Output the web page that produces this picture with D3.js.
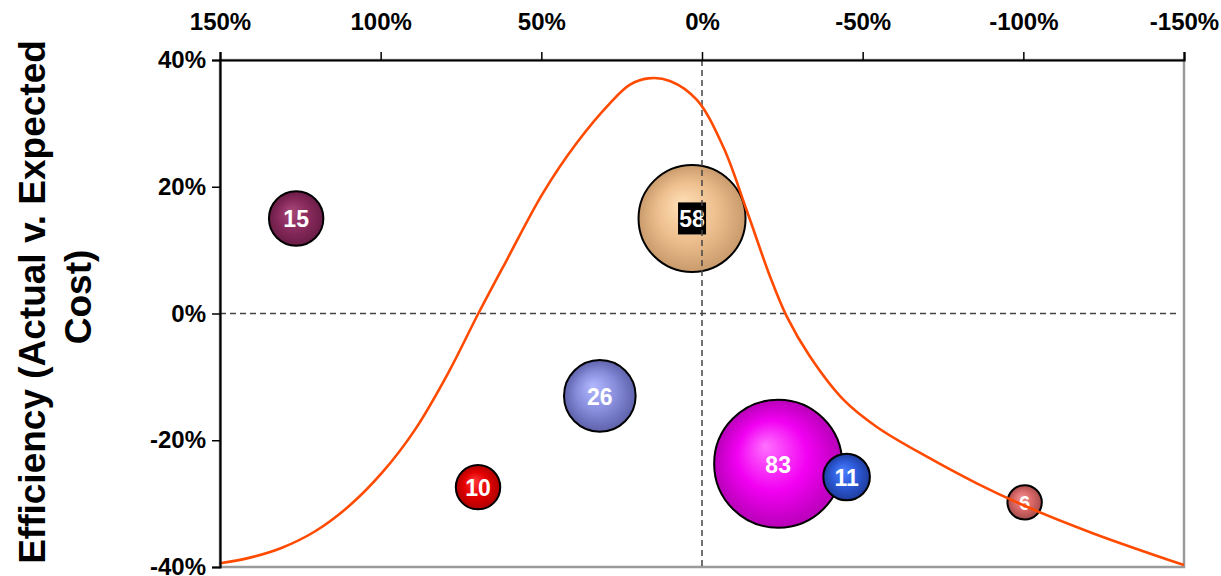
<!DOCTYPE html>
<html>
<head>
<meta charset="utf-8">
<script src="https://cdn.jsdelivr.net/npm/d3@7"></script>
<style>
  html, body { margin: 0; padding: 0; background: #fff; }
  svg { display: block; }
  text { font-family: "Liberation Sans", Arial, sans-serif; font-weight: bold; }
</style>
</head>
<body>
<svg id="chart" width="1221" height="576"></svg>
<script>
// Variance from expected schedule (x) vs efficiency (y), bubble size = project count
const xTicks = [150, 100, 50, 0, -50, -100, -150];
const yTicks = [40, 20, 0, -20, -40];

const bubbleLabels = ["15", "58", "26", "10", "83", "11", "6"];
const bubbleX      = [126.3, 3.1, 31.8, 69.7, -23.7, -45.0, -100.4];
const bubbleY      = [15.0, 15.0, -13.0, -27.4, -23.7, -25.8, -29.8];
const bubbleSize   = [15, 58, 26, 10, 83, 11, 6];
const bubbleLight  = ["#a8477a", "#ffe0b8", "#b2b9ff", "#ff3a3a", "#ff70ff", "#4a80ff", "#f09090"];
const bubbleBase   = ["#892b5d", "#eebf8e", "#888ddc", "#e30000", "#f200f2", "#2d5ad8", "#d86868"];
const bubbleDark   = ["#6a1c46", "#c99b6c", "#5e62aa", "#b00000", "#b800b8", "#1f3e9e", "#a84c4c"];

// Distribution curve
const curveX = [150, 141.3, 130.9, 120.5, 110.1, 99.7, 89.4, 79.0, 69.6, 60.8, 49.5, 39.0, 28.6, 22.4,
                16.7, 10.0, 1.6, -6.6, -13.9, -21.2, -26.4, -33.6, -44.0, -54.4, -70.0, -85.5, -101.1,
                -121.8, -150];
const curveY = [-39.4, -38.6, -37.0, -34.4, -30.5, -25.2, -18.4, -9.4, 0, 8.4, 19.0, 26.9, 33.2, 36.1,
                37.1, 36.7, 33.7, 26.3, 16.3, 5.8, -0.5, -6.8, -13.6, -17.9, -22.6, -26.8, -30.5,
                -34.7, -39.7];

const svg = d3.select("#chart");
const plotLeft = 220, plotRight = 1184, plotTop = 60, plotBottom = 567;

const x = d3.scaleLinear().domain([150, -150]).range([plotLeft, plotRight]);
const y = d3.scaleLinear().domain([-40, 40]).range([plotBottom, plotTop]);
const r = d3.scaleSqrt().domain([0, 83]).range([0, 64]);
const pct = d => d + "%";

svg.append("rect").attr("width", 1221).attr("height", 576).attr("fill", "#fff");

// Plot frame (grey right/bottom edge)
svg.append("rect")
  .attr("x", plotLeft).attr("y", plotTop)
  .attr("width", plotRight - plotLeft).attr("height", plotBottom - plotTop)
  .attr("fill", "#fff").attr("stroke", "#9a9a9a").attr("stroke-width", 2.5);

// Bubble gradients
const defs = svg.append("defs");
bubbleLabels.forEach((lab, i) => {
  const g = defs.append("radialGradient")
    .attr("id", "bub" + i)
    .attr("cx", "50%").attr("cy", "50%").attr("r", "50%")
    .attr("fx", "40%").attr("fy", "36%");
  g.append("stop").attr("offset", "0%").attr("stop-color", bubbleLight[i]);
  g.append("stop").attr("offset", "55%").attr("stop-color", bubbleBase[i]);
  g.append("stop").attr("offset", "100%").attr("stop-color", bubbleDark[i]);
});

// Bubbles and their labels
const bubbles = bubbleLabels.map((lab, i) => ({
  label: lab, x: bubbleX[i], y: bubbleY[i], size: bubbleSize[i], i
}));

const bg = svg.append("g").selectAll("g").data(bubbles).join("g");
bg.append("circle")
  .attr("cx", d => x(d.x)).attr("cy", d => y(d.y)).attr("r", d => r(d.size))
  .attr("fill", d => `url(#bub${d.i})`)
  .attr("stroke", "#000").attr("stroke-width", 2);

bg.filter(d => d.label === "58").append("rect")
  .attr("x", d => x(d.x) - 14).attr("y", d => y(d.y) - 16)
  .attr("width", 28).attr("height", 32)
  .attr("fill", "#000");

bg.append("text")
  .attr("x", d => x(d.x)).attr("y", d => y(d.y) + 1)
  .attr("text-anchor", "middle").attr("dominant-baseline", "central")
  .attr("font-size", d => d.label === "6" ? 20 : 23).attr("fill", "#fff")
  .text(d => d.label);

// Zero reference lines
svg.append("line")
  .attr("x1", x(0)).attr("x2", x(0)).attr("y1", plotTop).attr("y2", plotBottom)
  .attr("stroke", "#444").attr("stroke-width", 1.5).attr("stroke-dasharray", "6,4");
svg.append("line")
  .attr("x1", plotLeft).attr("x2", plotRight - 4).attr("y1", y(0)).attr("y2", y(0))
  .attr("stroke", "#444").attr("stroke-width", 1.5).attr("stroke-dasharray", "6,4");

// Curve
const line = d3.line()
  .x((d, i) => x(curveX[i]))
  .y((d, i) => y(curveY[i]))
  .curve(d3.curveCatmullRom.alpha(0.5));
svg.append("path")
  .datum(curveX)
  .attr("d", line)
  .attr("fill", "none")
  .attr("stroke", "#ff4a00")
  .attr("stroke-width", 2.6);

// Axes
const xAxis = svg.append("g")
  .attr("transform", `translate(0,${plotTop})`)
  .call(d3.axisTop(x).tickValues(xTicks).tickFormat(pct).tickSize(8).tickPadding(22));
const yAxis = svg.append("g")
  .attr("transform", `translate(${plotLeft},0)`)
  .call(d3.axisLeft(y).tickValues(yTicks).tickFormat(pct).tickSize(8).tickPadding(6));

[xAxis, yAxis].forEach(a => {
  a.select(".domain").attr("stroke", "#000").attr("stroke-width", 2.2);
  a.selectAll(".tick line").attr("stroke", "#000").attr("stroke-width", 1.5);
  a.selectAll(".tick text")
    .attr("fill", "#000")
    .attr("font-size", 24)
    .attr("font-family", "'Liberation Sans', Arial, sans-serif")
    .attr("font-weight", "bold");
});

// Axis title
svg.append("text")
  .attr("transform", "translate(45,302) rotate(-90)")
  .attr("text-anchor", "middle")
  .attr("font-size", 37).attr("fill", "#000")
  .text("Efficiency (Actual v. Expected");
svg.append("text")
  .attr("transform", "translate(91,297) rotate(-90)")
  .attr("text-anchor", "middle")
  .attr("font-size", 37).attr("fill", "#000")
  .text("Cost)");
</script>
</body>
</html>
